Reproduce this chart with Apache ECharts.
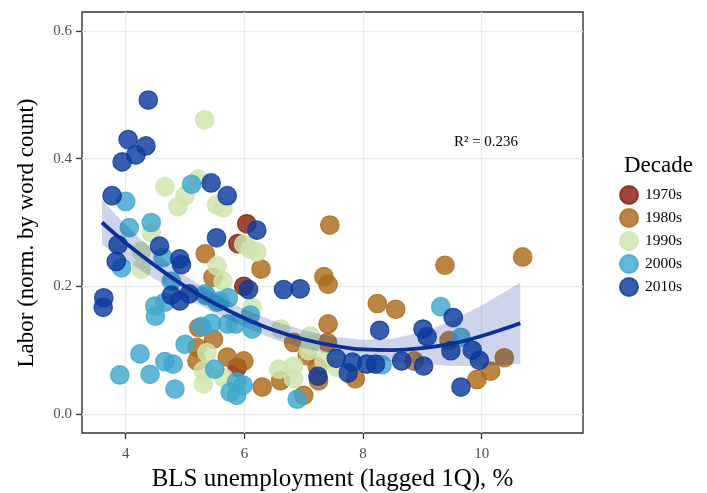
<!DOCTYPE html>
<html>
<head>
<meta charset="utf-8">
<script src="https://cdn.jsdelivr.net/npm/echarts@6/dist/echarts.min.js"></script>
<style>html,body{margin:0;padding:0;background:#fff}#c{width:707px;height:493px}</style>
</head>
<body>
<div id="c"></div>
<script>
// ---- data ----
const decades = ['1970s', '1980s', '1990s', '2000s', '2010s'];
const d1970s = [[6.04,0.298],[5.89,0.267],[5.99,0.200],[5.88,0.073]];
const d1980s = [[7.44,0.296],[6.28,0.227],[7.34,0.215],[7.41,0.203],[8.24,0.173],[8.55,0.164],[9.38,0.233],[10.69,0.246],
  [10.38,0.088],[10.15,0.067],[9.92,0.054],[9.45,0.115],[8.86,0.083],[5.34,0.251],[5.47,0.214],[5.23,0.135],[5.48,0.117],
  [5.20,0.104],[5.20,0.083],[5.71,0.089],[5.99,0.083],[6.30,0.042],[7.41,0.141],[6.61,0.052],[7.00,0.029],[6.83,0.112],
  [7.87,0.055],[7.25,0.052],[7.06,0.091],[7.23,0.073],[7.40,0.112]];
const d1990s = [[5.33,0.461],[4.66,0.356],[5.22,0.368],[5.00,0.342],[4.88,0.325],[5.53,0.328],[5.64,0.323],[6.21,0.254],
  [5.99,0.266],[6.10,0.258],[5.54,0.232],[4.43,0.284],[4.26,0.255],[4.26,0.227],[5.64,0.208],[5.37,0.096],[5.31,0.068],
  [5.31,0.047],[5.65,0.057],[6.13,0.167],[6.58,0.070],[6.61,0.133],[7.11,0.122],[7.11,0.107],[6.83,0.075],[6.83,0.055],
  [7.34,0.083],[7.56,0.073],[7.08,0.099]];
const d2000s = [[5.11,0.360],[4.00,0.333],[4.06,0.292],[4.43,0.300],[3.93,0.229],[4.63,0.245],[4.77,0.208],[5.59,0.177],
  [5.36,0.185],[4.49,0.169],[4.50,0.153],[5.00,0.109],[4.24,0.094],[4.66,0.082],[4.80,0.078],[3.90,0.061],[4.41,0.062],
  [4.83,0.039],[5.50,0.070],[5.76,0.034],[5.87,0.029],[5.98,0.045],[5.87,0.050],[5.28,0.137],[5.45,0.142],[5.72,0.141],
  [5.85,0.141],[6.10,0.155],[4.66,0.175],[5.34,0.188],[5.73,0.182],[5.54,0.175],[6.13,0.133],[6.89,0.023],[9.31,0.168],
  [9.65,0.120],[8.32,0.077]];
const d2010s = [[4.38,0.492],[4.04,0.430],[4.34,0.420],[4.17,0.406],[3.94,0.395],[3.77,0.342],[5.44,0.362],[5.71,0.342],
  [5.53,0.276],[4.57,0.263],[3.87,0.265],[3.84,0.239],[4.94,0.234],[4.91,0.243],[4.77,0.186],[4.91,0.177],[5.07,0.188],
  [3.63,0.182],[3.62,0.167],[6.21,0.288],[6.07,0.195],[6.66,0.195],[6.94,0.196],[8.28,0.131],[9.52,0.151],[9.01,0.133],
  [9.08,0.121],[9.48,0.099],[9.84,0.100],[9.96,0.084],[9.02,0.075],[8.65,0.083],[9.65,0.042],[7.55,0.087],[7.82,0.081],
  [7.75,0.064],[8.06,0.078],[8.21,0.078],[7.24,0.059]];
const fitX  = [3.6, 4.0, 4.5, 5.0, 5.5, 6.0, 6.5, 7.0, 7.5, 8.0, 8.5, 9.0, 9.5, 10.0, 10.65];
const fitY  = [0.300,0.268,0.232,0.200,0.173,0.150,0.131,0.117,0.107,0.101,0.100,0.103,0.110,0.122,0.142];
const bandHi= [0.335,0.296,0.253,0.217,0.188,0.164,0.145,0.131,0.121,0.116,0.118,0.128,0.146,0.170,0.206];
const bandLo= [0.265,0.240,0.211,0.183,0.158,0.136,0.117,0.103,0.093,0.086,0.082,0.078,0.075,0.075,0.078];
const xTicks = [4, 6, 8, 10];
const yTicks = [0.0, 0.2, 0.4, 0.6];
const r2Label = 'R\u00b2 = 0.236';
const xTitle = 'BLS unemployment (lagged 1Q), %';
const yTitle = 'Labor (norm. by word count)';

// ---- styling ----
const FONT = '"Liberation Serif", "DejaVu Serif", serif';
const colors = {
  '1970s': 'rgba(134,31,11,0.82)',
  '1980s': 'rgba(172,106,26,0.82)',
  '1990s': 'rgba(206,228,172,0.82)',
  '2000s': 'rgba(62,167,204,0.82)',
  '2010s': 'rgba(11,58,158,0.82)'
};
const dataBy = { '1970s': d1970s, '1980s': d1980s, '1990s': d1990s, '2000s': d2000s, '2010s': d2010s };

const chart = echarts.init(document.getElementById('c'), null, { renderer: 'canvas' });

const scatterSeries = decades.map(d => ({
  name: d,
  type: 'scatter',
  data: dataBy[d],
  symbol: 'circle',
  symbolSize: 18.5,
  z: 2,
  itemStyle: { color: colors[d], borderColor: colors[d], borderWidth: 1.2, opacity: 1 },
  emphasis: { disabled: true }
}));

const option = {
  animation: false,
  backgroundColor: '#fff',
  textStyle: { fontFamily: FONT },
  title: {
    text: 'Decade', left: 619, top: 149,
    textStyle: { fontFamily: FONT, fontSize: 23, fontWeight: 'normal', color: '#000' }
  },
  legend: {
    data: decades, orient: 'vertical', left: 614, top: 180,
    itemWidth: 18, itemHeight: 18, itemGap: 3, icon: 'circle',
    textStyle: { fontFamily: FONT, fontSize: 15.5, color: '#000', padding: [0, 0, 0, 2] }
  },
  grid: { left: 82, right: 124, top: 12, bottom: 60, show: true, borderColor: '#333', borderWidth: 1.4,
    backgroundColor: 'transparent', containLabel: false, outerBoundsMode: 'none' },
  xAxis: {
    type: 'value', min: 3.263, max: 11.707,
    name: xTitle, nameLocation: 'middle', nameGap: 33,
    nameTextStyle: { fontFamily: FONT, fontSize: 25, color: '#000' },
    axisLine: { show: false, onZero: false },
    axisTick: { show: true, inside: false, length: 6, lineStyle: { color: '#333', width: 1.3 }, customValues: xTicks },
    axisLabel: { fontFamily: FONT, fontSize: 15, color: '#4d4d4d', margin: 14, customValues: xTicks },
    splitLine: { show: true, lineStyle: { color: '#ebebeb', width: 1.3 } }
  },
  yAxis: {
    type: 'value', min: -0.03, max: 0.63,
    axisLine: { show: false, onZero: false },
    axisTick: { show: true, inside: false, length: 6, lineStyle: { color: '#333', width: 1.3 }, customValues: yTicks },
    axisLabel: { fontFamily: FONT, fontSize: 15, color: '#4d4d4d', margin: 10, customValues: yTicks,
      formatter: v => Number(v).toFixed(1) },
    splitLine: { show: true, lineStyle: { color: '#ebebeb', width: 1.3 } }
  },
  graphic: [
    {
      type: 'text', x: 486, y: 142, z: 10,
      style: { text: r2Label, fontFamily: FONT, fontSize: 15, fill: '#000', align: 'center', verticalAlign: 'middle' }
    },
    {
      type: 'text', x: 27, y: 233, rotation: Math.PI / 2, z: 10,
      style: { text: yTitle, fontFamily: FONT, fontSize: 23, fill: '#000', align: 'center', verticalAlign: 'middle' }
    }
  ],
  series: scatterSeries.concat([
    {
      name: 'band', type: 'custom', z: 3, silent: true,
      data: fitX.map((x, i) => [x, fitY[i]]),
      renderItem: (params, api) => {
        if (params.dataIndex !== 0) return null;
        const pts = [];
        for (let i = 0; i < fitX.length; i++) pts.push(api.coord([fitX[i], bandHi[i]]));
        for (let i = fitX.length - 1; i >= 0; i--) pts.push(api.coord([fitX[i], bandLo[i]]));
        return { type: 'polygon', shape: { points: pts }, style: { fill: 'rgba(10,46,150,0.2)' } };
      }
    },
    {
      name: 'fit', type: 'line', z: 4, silent: true,
      data: fitX.map((x, i) => [x, fitY[i]]),
      showSymbol: false, smooth: 0.4,
      lineStyle: { color: '#0a2f96', width: 3.8 }
    }
  ])
};
chart.setOption(option);
</script>
</body>
</html>
